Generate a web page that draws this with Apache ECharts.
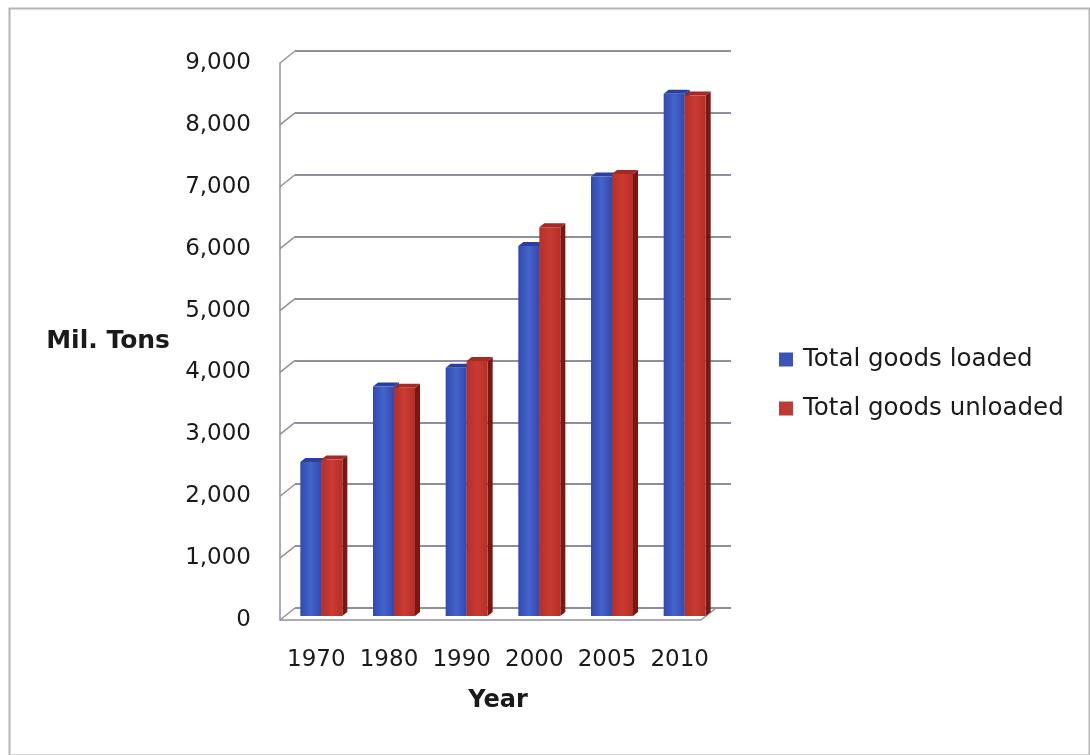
<!DOCTYPE html>
<html>
<head>
<meta charset="utf-8">
<script src="https://cdn.jsdelivr.net/npm/echarts@6/dist/echarts.min.js"></script>
<style>
  html, body { margin: 0; padding: 0; background: #fff; }
  #chart { width: 1090px; height: 755px; }
</style>
</head>
<body>
<div id="chart"></div>
<script>
const years = ['1970', '1980', '1990', '2000', '2005', '2010'];
const loaded = [2490, 3710, 4010, 5980, 7100, 8440];
const unloaded = [2530, 3690, 4120, 6280, 7140, 8410];
const yTicks = [0, 1000, 2000, 3000, 4000, 5000, 6000, 7000, 8000, 9000];

// ── pseudo 3D geometry ───────────────────────────────────────────────────────
const WALL_DX = 15, WALL_DY = -12;    // front plane -> back wall
const BAR_SHIFT_X = 5, BAR_SHIFT_Y = -4;
const BAR_W = 21;
const BAR_DX = 5, BAR_DY = -4;        // bar depth
const FONT = '"DejaVu Sans", Verdana, sans-serif';
const GRID_COL = '#8f8e9c';

function barRenderer(slot, front, top, side) {
    return (params, api) => {
        const i = api.value(0), v = api.value(1);
        const base = api.coord([i, 0]);
        const tip = api.coord([i, v]);
        const x0 = base[0] + BAR_SHIFT_X + (slot === 0 ? -BAR_W : 0);
        const x1 = x0 + BAR_W;
        const yb = base[1] + BAR_SHIFT_Y, yt = tip[1] + BAR_SHIFT_Y;
        return {
            type: 'group',
            children: [
                { type: 'polygon', shape: { points: [[x1, yb], [x1 + BAR_DX, yb + BAR_DY], [x1 + BAR_DX, yt + BAR_DY], [x1, yt]] },
                  style: { fill: side } },
                { type: 'polygon', shape: { points: [[x0, yt], [x0 + BAR_DX, yt + BAR_DY], [x1 + BAR_DX, yt + BAR_DY], [x1, yt]] },
                  style: { fill: top } },
                { type: 'rect', shape: { x: x0, y: yt, width: BAR_W, height: yb - yt },
                  style: { fill: new echarts.graphic.LinearGradient(0, 0, 1, 0, [
                      { offset: 0, color: front[0] }, { offset: 0.5, color: front[1] }, { offset: 1, color: front[0] }
                  ]) } }
            ]
        };
    };
}

function wallRenderer(params, api) {
    const cs = params.coordSys;
    const y = api.coord([0, api.value(1)])[1];
    const children = [
        { type: 'line', shape: { x1: cs.x, y1: y, x2: cs.x + WALL_DX, y2: y + WALL_DY },
          style: { stroke: GRID_COL, lineWidth: 1.5 } }
    ];
    if (api.value(1) === 0) {
        const xr = cs.x + cs.width - WALL_DX;
        children.push({ type: 'line', shape: { x1: cs.x, y1: y, x2: xr, y2: y },
            style: { stroke: GRID_COL, lineWidth: 1.5 } });
        children.push({ type: 'line', shape: { x1: xr, y1: y, x2: xr + WALL_DX, y2: y + WALL_DY },
            style: { stroke: GRID_COL, lineWidth: 1.5 } });
    }
    return { type: 'group', children };
}

const chart = echarts.init(document.getElementById('chart'));
chart.setOption({
    animation: false,
    backgroundColor: '#fff',
    graphic: [{
        type: 'rect', left: 7, top: 6,
        shape: { width: 1080, height: 747 },
        style: { fill: 'none', stroke: '#b4b4b4', lineWidth: 2 }
    }],
    legend: {
        orient: 'vertical',
        left: 774, top: 342,
        icon: 'rect',
        itemWidth: 14, itemHeight: 14, itemGap: 24,
        textStyle: { fontFamily: FONT, fontSize: 24.5, color: '#1a1a1a', lineHeight: 24, padding: [0, 0, 0, 5] },
        data: ['Total goods loaded', 'Total goods unloaded']
    },
    grid: [
        { left: 280 + WALL_DX, top: 63 + WALL_DY, width: 436, height: 557 },   // back wall
        { left: 280, top: 63, width: 436, height: 557 }                         // front plane
    ],
    xAxis: [
        { gridIndex: 0, type: 'category', data: years, show: false },
        {
            gridIndex: 1, type: 'category', data: years,
            axisLine: { show: false }, axisTick: { show: false },
            axisLabel: { interval: 0, fontFamily: FONT, fontSize: 23, color: '#1a1a1a', margin: 29 },
            name: 'Year', nameLocation: 'middle', nameGap: 69,
            nameTextStyle: { fontFamily: FONT, fontSize: 24, fontWeight: 'bold', color: '#1a1a1a' }
        }
    ],
    yAxis: [
        {
            gridIndex: 0, type: 'value', min: 0, max: 9000, interval: 1000,
            axisLabel: { show: false }, axisLine: { show: false }, axisTick: { show: false },
            splitLine: { lineStyle: { color: GRID_COL, width: 2 } }
        },
        {
            gridIndex: 1, type: 'value', min: 0, max: 9000, interval: 1000,
            axisLine: { show: true, lineStyle: { color: '#8f8fab', width: 1.5 } },
            axisTick: { show: false }, splitLine: { show: false },
            axisLabel: {
                fontFamily: FONT, fontSize: 23, color: '#1a1a1a', margin: 29,
                formatter: v => v.toLocaleString('en-US')
            },
            name: 'Mil. Tons', nameLocation: 'middle', nameGap: 110, nameRotate: 0,
            nameTextStyle: { fontFamily: FONT, fontSize: 25, fontWeight: 'bold', color: '#1a1a1a', padding: [6, 0, 0, 0] }
        }
    ],
    series: [
        {
            name: 'wall', type: 'custom', xAxisIndex: 1, yAxisIndex: 1, silent: true,
            data: yTicks.map(v => [0, v]), encode: { x: 0, y: 1 },
            renderItem: wallRenderer
        },
        {
            name: 'Total goods loaded', type: 'custom', xAxisIndex: 1, yAxisIndex: 1,
            itemStyle: { color: '#3b53b6' },
            data: years.map((y, i) => [i, loaded[i]]), encode: { x: 0, y: 1 },
            renderItem: barRenderer(0, ['#3149b0', '#4464cc'], '#2a40a0', '#22358a')
        },
        {
            name: 'Total goods unloaded', type: 'custom', xAxisIndex: 1, yAxisIndex: 1,
            itemStyle: { color: '#bf3a32' },
            data: years.map((y, i) => [i, unloaded[i]]), encode: { x: 0, y: 1 },
            renderItem: barRenderer(1, ['#b42f28', '#c93b32'], '#a52a24', '#7a1712')
        }
    ]
});
</script>
</body>
</html>
